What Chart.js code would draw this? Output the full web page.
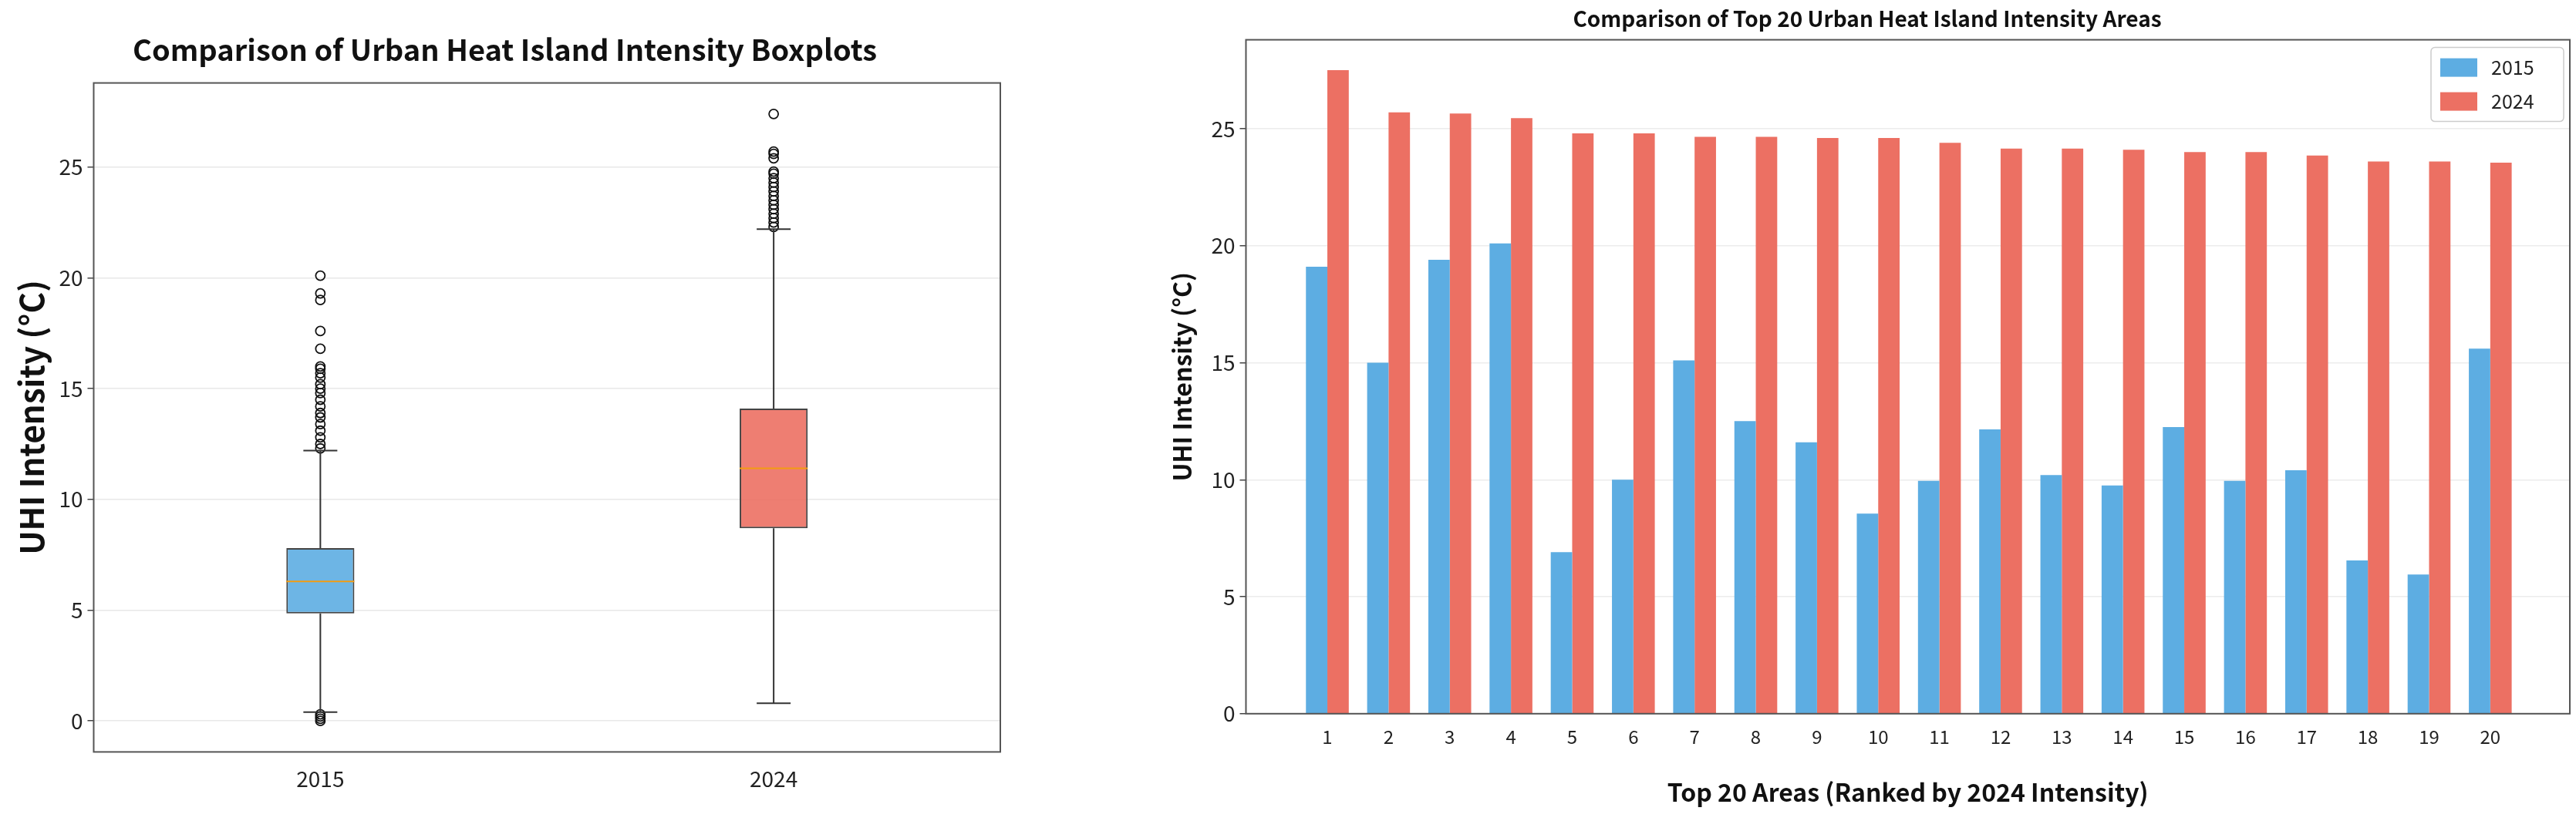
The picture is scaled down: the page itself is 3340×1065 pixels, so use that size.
<!DOCTYPE html>
<html>
<head>
<meta charset="utf-8">
<script src="https://cdn.jsdelivr.net/npm/chart.js@4.4.1/dist/chart.umd.min.js"></script>
<style>
  body { margin: 0; background: #fff; width: 3340px; height: 1065px; overflow: hidden; }
  .box { position: absolute; top: 0; height: 1065px; }
</style>
</head>
<body>
<div class="box" style="left:0;width:1330px"><canvas id="boxChart"></canvas></div>
<div class="box" style="left:1490px;width:1850px"><canvas id="barChart"></canvas></div>
<script>
const years = ['2015', '2024'];
// box stats: lower whisker, q1, median, q3, upper whisker
const whiskerLow = [0.4, 0.8];
const q1 = [4.85, 8.7];
const median = [6.3, 11.4];
const q3 = [7.8, 14.1];
const whiskerHigh = [12.2, 22.2];
const outliers2015 = [0.0, 0.1, 0.2, 0.3, 12.3, 12.5, 12.8, 13.1, 13.4, 13.7, 13.9, 14.2, 14.5, 14.8, 15.0, 15.2, 15.5, 15.7, 15.9, 16.0, 16.8, 17.6, 19.0, 19.3, 20.1];
const outliers2024 = [22.3, 22.5, 22.7, 22.9, 23.1, 23.3, 23.5, 23.7, 23.9, 24.1, 24.3, 24.5, 24.7, 24.8, 25.4, 25.6, 25.7, 27.4];

const areas = [1, 2, 3, 4, 5, 6, 7, 8, 9, 10, 11, 12, 13, 14, 15, 16, 17, 18, 19, 20];
const uhi2015 = [19.1, 15.0, 19.4, 20.1, 6.9, 10.0, 15.1, 12.5, 11.6, 8.55, 9.95, 12.15, 10.2, 9.75, 12.25, 9.95, 10.4, 6.55, 5.95, 15.6];
const uhi2024 = [27.5, 25.7, 25.65, 25.45, 24.8, 24.8, 24.65, 24.65, 24.6, 24.6, 24.4, 24.15, 24.15, 24.1, 24.0, 24.0, 23.85, 23.6, 23.6, 23.55];

const FONT = "'Noto Sans CJK SC', 'DejaVu Sans', sans-serif";
const BLUE = '#5dade2', RED = '#ec7063';

// frame around plot area
const frame = {
  id: 'frame',
  afterDraw(chart) {
    const a = chart.chartArea, c = chart.ctx;
    c.save();
    c.strokeStyle = '#555';
    c.lineWidth = 2;
    c.strokeRect(a.left, a.top, a.right - a.left, a.bottom - a.top);
    c.restore();
  }
};

// legend box inside the plot, top right
const innerLegend = {
  id: 'innerLegend',
  afterDraw(chart) {
    const a = chart.chartArea, c = chart.ctx;
    const w = 172, h = 96, x0 = a.right - w - 8, y0 = a.top + 10;
    c.save();
    c.fillStyle = 'rgba(255,255,255,0.85)';
    c.strokeStyle = '#ccc';
    c.lineWidth = 1.5;
    c.beginPath();
    c.roundRect(x0, y0, w, h, 5);
    c.fill();
    c.stroke();
    c.font = '25px ' + FONT;
    c.textBaseline = 'middle';
    chart.data.datasets.forEach((ds, i) => {
      const yy = y0 + 26 + i * 44;
      c.fillStyle = ds.backgroundColor;
      c.fillRect(x0 + 12, yy - 12, 48, 24);
      c.fillStyle = '#222';
      c.fillText(ds.label, x0 + 78, yy);
    });
    c.restore();
  }
};

// whiskers, caps and median lines for the boxplot
const whiskers = {
  id: 'whiskers',
  afterDatasetsDraw(chart) {
    const x = chart.scales.x, y = chart.scales.y, c = chart.ctx;
    c.save();
    years.forEach((yr, i) => {
      const cx = x.getPixelForValue(i);
      const cap = 22;
      c.strokeStyle = '#333';
      c.lineWidth = 2;
      c.beginPath();
      c.moveTo(cx, y.getPixelForValue(q1[i]));
      c.lineTo(cx, y.getPixelForValue(whiskerLow[i]));
      c.moveTo(cx, y.getPixelForValue(q3[i]));
      c.lineTo(cx, y.getPixelForValue(whiskerHigh[i]));
      c.moveTo(cx - cap, y.getPixelForValue(whiskerLow[i]));
      c.lineTo(cx + cap, y.getPixelForValue(whiskerLow[i]));
      c.moveTo(cx - cap, y.getPixelForValue(whiskerHigh[i]));
      c.lineTo(cx + cap, y.getPixelForValue(whiskerHigh[i]));
      c.stroke();
      const meta = chart.getDatasetMeta(0).data[i];
      c.strokeStyle = '#f39c12';
      c.beginPath();
      c.moveTo(meta.x - meta.width / 2, y.getPixelForValue(median[i]));
      c.lineTo(meta.x + meta.width / 2, y.getPixelForValue(median[i]));
      c.stroke();
    });
    c.restore();
  }
};

new Chart(document.getElementById('boxChart'), {
  data: {
    labels: years,
    datasets: [{
      type: 'bar',
      data: years.map((_, i) => [q1[i], q3[i]]),
      backgroundColor: ['rgba(93,173,226,0.9)', 'rgba(236,112,99,0.9)'],
      borderColor: '#444',
      borderWidth: 2,
      borderSkipped: false,
      barPercentage: 0.15,
      categoryPercentage: 1
    }, {
      type: 'scatter',
      data: outliers2015.map(v => ({ x: '2015', y: v })).concat(outliers2024.map(v => ({ x: '2024', y: v }))),
      pointStyle: 'circle',
      pointRadius: 6,
      backgroundColor: 'rgba(255,255,255,0)',
      borderColor: '#111',
      borderWidth: 1.8
    }]
  },
  options: {
    responsive: true,
    maintainAspectRatio: false,
    animation: false,
    layout: { padding: { top: 0, right: 33, bottom: 28, left: 12 } },
    plugins: {
      legend: { display: false },
      tooltip: { enabled: false },
      title: {
        display: true,
        text: 'Comparison of Urban Heat Island Intensity Boxplots',
        color: '#111',
        font: { family: FONT, size: 38, weight: 'bold' },
        padding: { top: 42, bottom: 20 }
      }
    },
    scales: {
      x: {
        type: 'category',
        grid: { display: false },
        border: { display: false },
        ticks: { color: '#222', font: { family: FONT, size: 28 }, padding: 10 }
      },
      y: {
        min: -1.4, max: 28.8,
        afterBuildTicks(ax) { ax.ticks = [0, 5, 10, 15, 20, 25].map(v => ({ value: v })); },
        grid: { color: '#e8e8e8', lineWidth: 1.5, tickLength: 8, tickColor: '#444' },
        border: { display: false },
        ticks: { color: '#222', font: { family: FONT, size: 28 }, padding: 6 },
        title: { display: true, text: 'UHI Intensity (°C)', color: '#111', font: { family: FONT, size: 42, weight: 'bold' } }
      }
    }
  },
  plugins: [frame, whiskers]
});

new Chart(document.getElementById('barChart'), {
  type: 'bar',
  data: {
    datasets: [
      { label: '2015', data: areas.map((a, i) => ({ x: a, y: uhi2015[i] })), backgroundColor: BLUE },
      { label: '2024', data: areas.map((a, i) => ({ x: a, y: uhi2024[i] })), backgroundColor: RED }
    ]
  },
  options: {
    responsive: true,
    maintainAspectRatio: false,
    animation: false,
    datasets: { bar: { categoryPercentage: 0.7, barPercentage: 1 } },
    layout: { padding: { top: 0, right: 8, bottom: 14, left: 20 } },
    plugins: {
      tooltip: { enabled: false },
      legend: { display: false },
      title: {
        display: true,
        text: 'Comparison of Top 20 Urban Heat Island Intensity Areas',
        color: '#111',
        font: { family: FONT, size: 28, weight: 'bold' },
        padding: { top: 8, bottom: 10 }
      }
    },
    scales: {
      x: {
        type: 'linear',
        offset: false,
        min: -0.33, max: 21.3,
        afterBuildTicks(ax) { ax.ticks = areas.map(v => ({ value: v })); },
        grid: { display: false, tickLength: 8 },
        border: { display: false },
        ticks: { color: '#222', font: { family: FONT, size: 24 }, padding: 8, autoSkip: false, maxRotation: 0 },
        title: { display: true, text: 'Top 20 Areas (Ranked by 2024 Intensity)', color: '#111', font: { family: FONT, size: 32, weight: 'bold' }, padding: { top: 30 } }
      },
      y: {
        min: 0, max: 28.8,
        afterBuildTicks(ax) { ax.ticks = [0, 5, 10, 15, 20, 25].map(v => ({ value: v })); },
        grid: { color: '#ececec', lineWidth: 1.5, tickLength: 8, tickColor: '#444' },
        border: { display: false },
        ticks: { color: '#222', font: { family: FONT, size: 28 }, padding: 6 },
        title: { display: true, text: 'UHI Intensity (°C)', color: '#111', font: { family: FONT, size: 32, weight: 'bold' }, padding: { bottom: 12 } }
      }
    }
  },
  plugins: [frame, innerLegend]
});
</script>
</body>
</html>
